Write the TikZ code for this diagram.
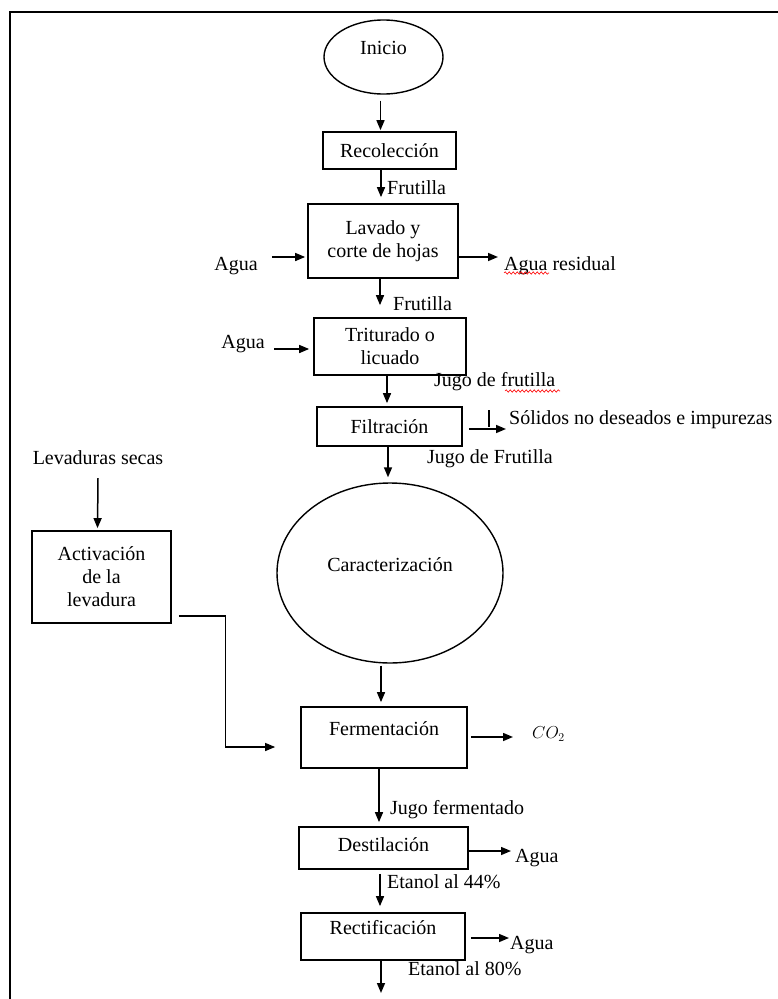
\documentclass[tikz,border=0pt]{standalone}
\usepackage{fontspec}
\setmainfont{Liberation Serif}
\usetikzlibrary{arrows.meta,shapes.geometric,decorations.pathmorphing}

\begin{document}
\begin{tikzpicture}[x=1pt,y=-1pt,>={Triangle[length=10pt,width=8pt]},
                    every node/.style={font=\fontsize{20}{23}\selectfont},
                    box node/.style={draw,rectangle,line width=1.7pt,inner sep=0pt,align=center},
                    oval node/.style={draw,ellipse,line width=1.4pt,inner sep=0pt},
                    txt node/.style={inner sep=0pt,anchor=west},
                    flow/.style={->,line width=1.5pt}]
  \useasboundingbox (0,0) rectangle (778,999);
  \draw[line width=2.2pt] (10,999) -- (10,12) -- (778,12);
  % main column
  \node[oval node,minimum width=119pt,minimum height=74pt,text depth=18.4pt] (ini) at (383.5,57) {Inicio};
  \node[box node,minimum width=133pt,minimum height=37pt] (rec) at (389.5,150.5) {Recolección};
  \node[box node,minimum width=150pt,minimum height=74pt] (lav) at (383,241) {Lavado y\\corte de hojas};
  \node[box node,minimum width=152pt,minimum height=57pt] (tri) at (390,346.5) {Triturado o\\licuado};
  \node[box node,minimum width=145pt,minimum height=39pt] (fil) at (389.5,426.5) {Filtración};
  \node[oval node,minimum width=226pt,minimum height=180pt,text depth=16.4pt] (car) at (390,573) {Caracterización};
  \node[box node,minimum width=139pt,minimum height=92pt] (act) at (101.5,577) {Activación\\de la\\levadura};
  \node[box node,minimum width=166pt,minimum height=61pt,text depth=17.4pt] (fer) at (384,737.5) {Fermentación};
  \node[box node,minimum width=169pt,minimum height=42pt,text depth=6pt] (des) at (383.5,848) {Destilación};
  \node[box node,minimum width=164pt,minimum height=47pt,text depth=17.4pt] (rct) at (383,936.5) {Rectificación};
  % streams
  \node[txt node] (fr1) at (387,188) {Frutilla};
  \node[txt node] (fr2) at (393,304) {Frutilla};
  \node[txt node,anchor=center] (ag1) at (236,266) {Agua};
  \node[txt node] (ares) at (504,266) {Agua residual};
  \node[txt node,anchor=center] (ag2) at (243,344) {Agua};
  \node[txt node] (jg1) at (434,382) {Jugo de frutilla};
  \node[txt node] (sol) at (509,420) {Sólidos no deseados e impurezas};
  \node[txt node] (jg2) at (427,459) {Jugo de Frutilla};
  \node[txt node,anchor=center] (lev) at (98,458) {Levaduras secas};
  \node[txt node,font=\fontsize{17}{20}\selectfont] (co2) at (532,734) {$CO_2$};
  \node[txt node] (jfe) at (390,810) {Jugo fermentado};
  \node[txt node] (ag3) at (515,858) {Agua};
  \node[txt node] (et1) at (387,882) {Etanol al 44\%};
  \node[txt node] (ag4) at (510,945) {Agua};
  \node[txt node] (et2) at (408,969) {Etanol al 80\%};
  \coordinate (fin) at (381,993);

  \draw[flow] ([xshift=-3pt,yshift=-6pt]ini.south) -- ([xshift=-9pt,yshift=1pt]rec.north);
  \draw[flow] ([xshift=-8.5pt]rec.south) -- ([xshift=-2pt,yshift=6pt]lav.north);
  \draw[flow] ([xshift=-3pt]lav.south) -- ([xshift=-10pt,yshift=12pt]tri.north);
  \draw[flow] ([xshift=-3pt]tri.south) -- ([xshift=-2.5pt,yshift=3pt]fil.north);
  \draw[flow] ([xshift=-1.5pt]fil.south) -- ([xshift=-2pt,yshift=5pt]car.north);
  \draw[flow] ([xshift=-9pt,yshift=-2pt]car.south) -- ([xshift=-3pt,yshift=4pt]fer.north);
  \draw[flow] ([xshift=-5pt]fer.south) -- ([xshift=-4.5pt,yshift=4pt]des.north);
  \draw[flow] ([xshift=-3.5pt,yshift=-4pt]des.south) -- ([xshift=-3pt,yshift=6pt]rct.north);
  \draw[flow] ([xshift=-2pt]rct.south) -- (fin);

  \draw[flow] ([xshift=14pt,yshift=9pt]ag1.east) -- ([xshift=-2pt,yshift=-16pt]lav.west);
  \draw[flow] ([yshift=-16pt]lav.east) -- ([xshift=-6pt,yshift=9pt]ares.west);
  \draw[flow] ([xshift=9.3pt,yshift=-5pt]ag2.east) -- ([xshift=-4pt,yshift=-2.5pt]tri.west);
  \draw[flow] ([xshift=6pt,yshift=-2.5pt]fil.east) -- ([xshift=-3pt,yshift=-9pt]sol.west);
  \draw[line width=1.2pt] ([xshift=-20pt,yshift=10pt]sol.west) -- ([xshift=-20pt,yshift=-7pt]sol.west);
  \draw[flow] ([yshift=-13pt]lev.south) -- ([xshift=-4pt,yshift=2pt]act.north);
  \draw[flow,line width=1.2pt] ([xshift=7pt,yshift=-39pt]act.east) -| ([xshift=-75pt,yshift=-9.5pt]fer.west) -- ([xshift=-25pt,yshift=-9.5pt]fer.west);
  \draw[flow] ([xshift=3pt,yshift=0.5pt]fer.east) -- ([xshift=-19pt,yshift=-3pt]co2.west);
  \draw[flow] ([yshift=-3pt]des.east) -- ([xshift=-4pt,yshift=7pt]ag3.west);
  \draw[flow] ([xshift=5pt,yshift=-1.5pt]rct.east) -- ([xshift=-1pt,yshift=7pt]ag4.west);

  % spell-check marks
  \draw[red,line width=0.6pt,decorate,decoration={snake,amplitude=1.2pt,segment length=4pt}] ([yshift=-7pt]ares.west) -- ++(45pt,0);
  \draw[red,line width=0.6pt,decorate,decoration={snake,amplitude=1.2pt,segment length=4pt}] ([xshift=71pt,yshift=-9pt]jg1.west) -- ++(55pt,0);
\end{tikzpicture}
\end{document}
